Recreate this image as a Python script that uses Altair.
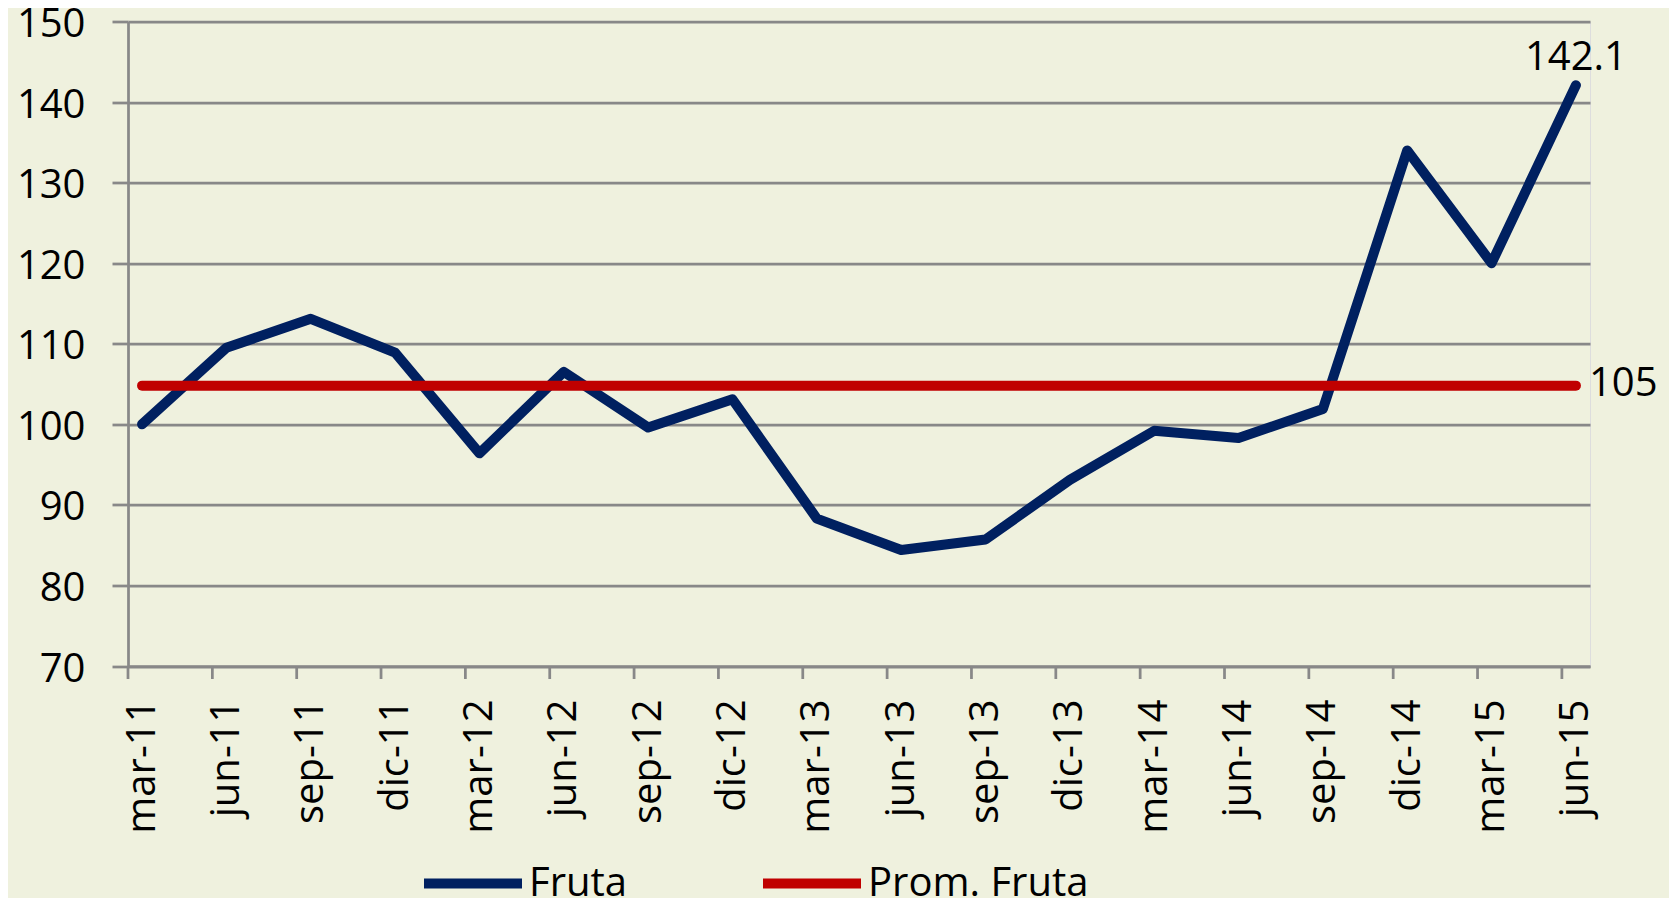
import altair as alt
import pandas as pd

# Data
labels = ["mar-11", "jun-11", "sep-11", "dic-11", "mar-12", "jun-12", "sep-12", "dic-12",
          "mar-13", "jun-13", "sep-13", "dic-13", "mar-14", "jun-14", "sep-14", "dic-14",
          "mar-15", "jun-15"]
fruta = [100.0, 109.5, 113.1, 108.9, 96.4, 106.5, 99.6, 103.1,
         88.3, 84.4, 85.7, 93.1, 99.2, 98.3, 101.9, 134.0,
         120.0, 142.1]
prom_fruta = 104.8
y_ticks = [70, 80, 90, 100, 110, 120, 130, 140, 150]

# month index: each label is a quarter (3 months); points in the middle of their month
month_pos = [3 * i + 0.5 for i in range(len(labels))]
tick_pos = [3 * i for i in range(len(labels))]
n_months = 3 * len(labels) - 2  # mar-11 .. jun-15 inclusive = 52 months

BG = "#EFF1DE"
GRID = "#888888"
BLUE = "#002060"
RED = "#C00000"
FONT = "Open Sans"
FS = 40

W, H = 1462, 644.5

rows = []
for lab, p, v in zip(labels, month_pos, fruta):
    rows.append({"serie": "Fruta", "m": p, "v": v, "lab": lab})
for lab, p in zip(labels, month_pos):
    rows.append({"serie": "Prom. Fruta", "m": p, "v": prom_fruta, "lab": lab})
df = pd.DataFrame(rows)
df_ticks = pd.DataFrame({"m": tick_pos})

label_expr = "{" + ",".join(f"'{p}':'{l}'" for p, l in zip(month_pos, labels)) + "}"

x_scale = alt.Scale(domain=[0, n_months], nice=False, zero=False)
y_scale = alt.Scale(domain=[70, 150], nice=False, zero=False)

x_axis = alt.Axis(values=month_pos, labelExpr=f"{label_expr}[toString(datum.value)]",
                  labelAngle=270, ticks=False, labelPadding=33, grid=False,
                  domainColor=GRID, domainWidth=2.75, title=None,
                  labelFont=FONT, labelFontSize=FS, labelColor="black")
y_axis = alt.Axis(values=y_ticks, tickSize=16, tickColor=GRID, tickWidth=2.75,
                  labelPadding=27, labelOffset=3, grid=True, gridColor=GRID, gridWidth=2.75,
                  domainColor=GRID, domainWidth=2.75, title=None,
                  labelFont=FONT, labelFontSize=FS, labelColor="black")

lines = alt.Chart(df).mark_line(strokeWidth=10, strokeCap="round", strokeJoin="round").encode(
    x=alt.X("m:Q", scale=x_scale, axis=x_axis),
    y=alt.Y("v:Q", scale=y_scale, axis=y_axis),
    color=alt.Color("serie:N",
                    scale=alt.Scale(domain=["Fruta", "Prom. Fruta"], range=[BLUE, RED]),
                    legend=alt.Legend(title=None, orient="none", direction="horizontal",
                                      legendX=291, legendY=808,
                                      symbolType="stroke", symbolSize=9604,
                                      symbolStrokeWidth=10, labelFont=FONT,
                                      labelFontSize=FS, labelColor="black",
                                      labelOffset=2, columnPadding=115,
                                      padding=0, labelLimit=400)),
    order=alt.Order("serie:N"),
)

ticks = alt.Chart(df_ticks).mark_rule(color=GRID, strokeWidth=2.75).encode(
    x=alt.X("m:Q", scale=x_scale),
    y=alt.value(H),
    y2=alt.value(H + 13),
)

last_fruta = df[(df.serie == "Fruta") & (df.lab == labels[-1])]
last_prom = df[(df.serie == "Prom. Fruta") & (df.lab == labels[-1])]

lbl_fruta = alt.Chart(last_fruta).mark_text(
    font=FONT, fontSize=FS, align="center", baseline="alphabetic", dy=-15, color="black"
).encode(x=alt.X("m:Q", scale=x_scale), y=alt.Y("v:Q", scale=y_scale),
         text=alt.Text("v:Q", format=".1f"))

lbl_prom = alt.Chart(last_prom).mark_text(
    font=FONT, fontSize=FS, align="left", baseline="middle", dx=13, dy=-2, color="black"
).encode(x=alt.X("m:Q", scale=x_scale), y=alt.Y("v:Q", scale=y_scale),
         text=alt.Text("v:Q", format=".0f"))

chart = alt.layer(ticks, lines, lbl_fruta, lbl_prom).properties(
    width=W, height=H,
    autosize=alt.AutoSizeParams(type="none"),
    padding={"left": 120, "top": 13.5, "right": 79, "bottom": 232},
    background=BG,
).configure_view(stroke=None).configure(font=FONT)

chart.save("out.html", embed_options={"renderer": "svg", "actions": False})
